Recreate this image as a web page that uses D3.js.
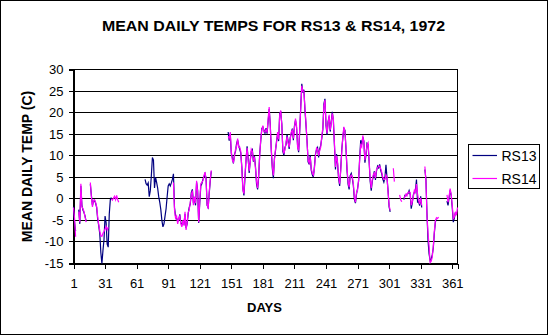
<!DOCTYPE html>
<html><head><meta charset="utf-8">
<script src="https://cdn.jsdelivr.net/npm/d3@7"></script>
<style>
html,body{margin:0;padding:0;background:#fff;}
svg{display:block;}
text{font-family:"Liberation Sans",Arial,Helvetica,sans-serif;fill:#000;}
</style>
</head><body>
<svg id="chart" width="550" height="336"></svg>
<script>
const _ = null;
const chartTitle = "MEAN DAILY TEMPS FOR RS13 & RS14, 1972";
const xTitle = "DAYS";
const yTitle = "MEAN DAILY TEMP (C)";
const seriesNames = ["RS13", "RS14"];
const seriesColors = ["#000080", "#FF00FF"];
const days = d3.range(1, 367);
const xTickDays = [1, 31, 61, 91, 121, 151, 181, 211, 241, 271, 301, 331, 361];
const yTicks = [-15, -10, -5, 0, 5, 10, 15, 20, 25, 30];

// RS13 mean daily temperature, day 1..366 (null = missing)
const rs13 = [
  -1.8, -5.5, -7.5, _, _, -2.5, -5.8, 3.0, -1.5, -2.6,
  -3.2, -4.0, -5.2, _, _, _, 3.4, 0.8, -1.5, -0.5,
  -0.4, -1.0, -2.0, -4.8, -6.2, -8.2, -12.5, -15.0, -12.0, -9.5,
  -4.0, -5.5, -10.5, -11.2, -3.5, -0.2, 0.3, _, _, _,
  _, _, _, _, _, _, _, _, _, _,
  _, _, _, _, _, _, _, _, _, _,
  _, _, _, _, _, _, _, _, 4.5, 3.5,
  3.2, 3.7, 0.5, 1.9, 5.4, 9.6, 9.0, 2.5, 5.0, 3.8,
  2.5, 0.5, -0.8, -2.5, -5.0, -6.5, -5.8, -4.0, -2.3, 0.5,
  3.0, 3.5, 3.0, 3.7, 4.5, 5.8, -2.0, -4.0, -4.5, -5.2,
  -5.0, -3.6, -5.5, -6.0, -5.4, -5.8, -3.5, -6.8, -5.8, -3.5,
  -2.0, -1.2, 1.5, 2.2, -1.0, 0.2, -1.5, 3.8, 2.0, -5.6,
  -1.0, 3.0, 3.5, 4.5, 5.0, 5.8, 4.8, -1.5, -2.0, 1.2,
  4.2, 6.4, _, _, _, _, _, _, _, _,
  _, _, _, _, _, _, _, 15.5, 13.5, 15.0,
  10.5, 9.5, 8.2, 10.3, 11.0, 12.8, 13.6, 12.4, 11.5, 10.6,
  7.4, 2.4, 0.8, 5.0, 9.0, 12.2, 9.4, 6.0, 8.9, 11.0,
  11.4, 8.6, 9.9, 7.4, 3.4, 2.2, 5.0, 10.5, 13.5, 16.3,
  16.6, 15.9, 15.2, 16.4, 15.1, 18.0, 20.8, 17.4, 11.2, 7.0,
  4.8, 9.4, 11.1, 13.4, 15.1, 13.4, 19.9, 20.1, 17.4, 11.0,
  10.1, 11.9, 12.6, 14.9, 13.4, 11.6, 14.2, 15.1, 16.3, 13.6,
  16.9, 18.2, 16.6, 12.4, 10.8, 15.6, 21.4, 26.7, 24.6, 25.3,
  20.6, 17.1, 13.4, 8.6, 8.0, 10.1, 6.6, 5.6, 5.0, 7.4,
  10.4, 11.4, 11.9, 9.6, 11.6, 12.4, 14.1, 16.1, 22.0, 23.2,
  17.1, 14.8, 17.9, 19.1, 15.6, 17.9, 20.2, 18.1, 12.6, 6.8,
  10.4, 8.1, 4.6, 3.0, 6.9, 11.4, 14.1, 16.3, 15.9, 11.6,
  6.6, 3.4, 2.2, 5.4, 5.9, 4.8, 3.1, -0.2, -1.0, 1.1,
  2.4, 4.1, 9.4, 13.6, 12.6, 14.3, 13.4, 8.4, 10.1, 12.9,
  12.6, 8.6, 4.1, 1.9, 4.1, 5.2, 6.4, 4.4, 6.4, 7.6,
  7.2, 8.0, 6.6, 5.8, 4.6, 3.9, 4.9, 7.9, 4.8, 1.9,
  -1.9, -3.0, _, _, _, _, _, _, _, _,
  _, _, _, _, -0.2, 0.8, 0.7, 1.1, 1.2, 1.9,
  1.0, -2.3, -1.0, 0.9, 1.6, 1.9, 4.5, -0.7, -0.6, -1.6,
  0.6, -2.0, _, _, 6.8, 4.5, -3.5, -9.7, -12.8, -14.3,
  -14.0, -13.0, -11.4, -7.9, -5.3, -4.8, _, _, _, _,
  _, _, _, _, _, -0.5, -1.5, 0.2, 2.0, 0.8,
  -2.0, -5.4, -4.5, -3.2, _, _
];

// RS14 mean daily temperature, day 1..366 (null = missing)
const rs14 = [
  -2.0, -4.5, -8.8, _, _, -3.0, -5.4, 3.5, -1.8, -2.3,
  -3.0, -4.2, -5.4, _, _, _, 3.8, 0.5, -1.9, -0.3,
  -0.2, -0.8, -1.8, -4.2, -6.0, -7.5, -8.6, -8.7, -8.0, -7.6,
  -7.0, -6.4, -7.2, -6.6, _, _, 0.0, -0.3, 0.2, 0.6,
  -0.2, 0.8, -0.2, -0.8, _, _, _, _, _, _,
  _, _, _, _, _, _, _, _, _, _,
  _, _, _, _, _, _, _, _, _, _,
  _, _, _, _, _, _, _, _, _, _,
  _, _, _, _, _, _, _, _, _, _,
  _, _, _, _, _, 3.8, -2.5, -4.5, -4.0, -5.8,
  -4.6, -4.0, -5.8, -6.5, -5.0, -6.2, -3.0, -7.2, -5.5, -3.2,
  -2.5, -0.8, 1.0, 1.9, -1.5, 0.5, -1.0, 4.2, 1.5, -5.4,
  -0.5, 3.5, 3.8, 4.2, 5.4, 6.2, 4.5, -1.2, -2.3, 1.5,
  4.5, 6.6, _, _, _, _, _, _, _, _,
  _, _, _, _, _, _, _, 14.5, 14.0, 15.5,
  11.0, 9.0, 8.5, 9.8, 11.5, 12.2, 14.0, 12.0, 12.0, 11.0,
  7.0, 2.0, 1.2, 5.5, 9.5, 11.8, 9.0, 6.5, 8.5, 11.5,
  11.0, 9.0, 9.5, 7.0, 4.0, 2.5, 5.5, 10.0, 14.0, 16.0,
  17.0, 15.5, 15.5, 16.0, 15.5, 18.5, 21.3, 17.0, 11.6, 7.5,
  5.4, 9.0, 11.5, 13.0, 15.5, 13.8, 19.5, 20.5, 17.0, 11.5,
  10.5, 11.5, 13.0, 14.5, 13.0, 12.0, 13.8, 15.5, 15.9, 14.0,
  16.5, 18.6, 17.0, 12.0, 11.2, 16.0, 21.0, 26.2, 25.0, 25.0,
  21.0, 17.5, 13.0, 9.0, 8.3, 9.7, 7.0, 6.0, 5.5, 7.0,
  10.0, 11.8, 11.5, 10.0, 11.2, 12.0, 14.5, 16.5, 21.5, 22.9,
  17.5, 15.2, 17.5, 19.5, 16.0, 17.5, 19.8, 18.5, 13.0, 7.4,
  10.0, 8.5, 5.0, 3.5, 6.5, 11.0, 14.5, 16.7, 15.5, 12.0,
  7.0, 4.0, 2.7, 5.0, 5.5, 5.2, 3.5, 0.4, -0.8, 1.5,
  2.0, 4.5, 9.0, 12.5, 12.0, 14.7, 13.0, 9.0, 10.5, 12.5,
  13.0, 9.0, 4.5, 2.5, 4.5, 5.6, 6.0, 4.8, 6.8, 7.2,
  7.6, 7.6, 7.0, 6.2, 5.0, 4.5, 4.5, 5.5, 5.0, 1.5,
  -1.5, -2.7, _, _, 7.1, 4.0, _, _, _, _,
  0.9, -0.2, -0.7, _, 0.1, 0.5, 1.1, 0.7, 1.5, 1.6,
  1.5, -1.5, -0.7, 0.5, 2.0, 1.5, 3.4, 1.2, -0.3, -1.2,
  0.2, -1.5, _, _, 7.5, 4.0, -4.0, -8.0, -11.0, -14.8,
  -14.5, -13.5, -11.0, -7.5, -5.0, -4.4, -4.6, -4.2, _, _,
  _, _, _, _, _, 0.9, -0.8, 0.5, 2.4, 1.0,
  -1.5, -4.6, -4.2, -3.0, -3.8, -2.0
];

const seriesValues = [rs13, rs14];

const svg = d3.select("#chart");

// outer frame
svg.append("rect")
  .attr("x", 0.5).attr("y", 0.5).attr("width", 547).attr("height", 334)
  .attr("fill", "#fff").attr("stroke", "#000").attr("stroke-width", 1);

const plotL = 73.5, plotR = 457.5, plotT = 69.5, plotB = 263.5;
const x = d3.scaleLinear().domain([1, 366]).range([plotL, plotR]);
const y = d3.scaleLinear().domain([-15, 30]).range([plotB, plotT]);
const snap = v => Math.round(v - 0.5) + 0.5;

// gridlines
svg.append("g").selectAll("line").data(yTicks).join("line")
  .attr("x1", plotL).attr("x2", plotR)
  .attr("y1", d => snap(y(d))).attr("y2", d => snap(y(d)))
  .attr("stroke", "#000").attr("stroke-width", 1).attr("shape-rendering", "crispEdges");

// plot border
svg.append("rect")
  .attr("x", plotL).attr("y", plotT).attr("width", plotR - plotL).attr("height", plotB - plotT)
  .attr("fill", "none").attr("stroke", "#000").attr("shape-rendering", "crispEdges");

// y axis
const yAxis = d3.axisLeft(y).tickValues(yTicks).tickSize(5).tickPadding(5)
  .tickFormat(d => String(d));
const gy = svg.append("g").attr("transform", `translate(${plotL},0)`).call(yAxis);
gy.select(".domain").attr("stroke", "#000").attr("shape-rendering", "crispEdges");
gy.selectAll(".tick").attr("transform", d => `translate(0,${snap(y(d))})`);
gy.selectAll(".tick line").attr("stroke", "#000").attr("shape-rendering", "crispEdges");
gy.selectAll(".tick text").attr("font-size", 13).attr("font-family", "Liberation Sans, Arial, sans-serif").attr("fill", "#000");

// x axis
const xAxis = d3.axisBottom(x).tickValues(xTickDays).tickSize(5).tickPadding(10)
  .tickFormat(d => String(d));
const gx = svg.append("g").attr("transform", `translate(0,${plotB})`).call(xAxis);
gx.select(".domain").attr("stroke", "#000").attr("shape-rendering", "crispEdges");
gx.selectAll(".tick line").attr("stroke", "#000").attr("shape-rendering", "crispEdges");
gx.selectAll(".tick text").attr("font-size", 13).attr("font-family", "Liberation Sans, Arial, sans-serif").attr("fill", "#000");

// series
const line = d3.line()
  .defined(d => d.v !== null && d.v !== undefined)
  .x(d => x(d.day)).y(d => y(d.v));

seriesValues.forEach((vals, i) => {
  const pts = days.map((day, k) => ({ day, v: vals[k] }));
  svg.append("path").datum(pts)
    .attr("d", line)
    .attr("fill", "none")
    .attr("stroke", seriesColors[i])
    .attr("stroke-width", 1.2)
    .attr("stroke-linejoin", "miter");
});

// title
svg.append("text")
  .attr("x", 102).attr("y", 31)
  .attr("font-size", 14).attr("font-weight", "bold")
  .attr("textLength", 343).attr("lengthAdjust", "spacingAndGlyphs")
  .text(chartTitle);

// axis titles
svg.append("text")
  .attr("x", 264.5).attr("y", 311.5)
  .attr("text-anchor", "middle")
  .attr("font-size", 13).attr("font-weight", "bold")
  .text(xTitle);

svg.append("text")
  .attr("transform", "translate(32,166.5) rotate(-90)")
  .attr("text-anchor", "middle")
  .attr("font-size", 14).attr("font-weight", "bold")
  .text(yTitle);

// legend
const lg = svg.append("g");
lg.append("rect")
  .attr("x", 468.5).attr("y", 144.5).attr("width", 71).attr("height", 44)
  .attr("fill", "#fff").attr("stroke", "#000").attr("shape-rendering", "crispEdges");
seriesNames.forEach((name, i) => {
  const ly = 155.5 + i * 23;
  lg.append("line")
    .attr("x1", 472.5).attr("x2", 497)
    .attr("y1", ly).attr("y2", ly)
    .attr("stroke", seriesColors[i]).attr("stroke-width", 1.2);
  lg.append("text")
    .attr("x", 501.5).attr("y", ly + 5.5)
    .attr("font-size", 14)
    .text(name);
});
</script>
</body></html>
